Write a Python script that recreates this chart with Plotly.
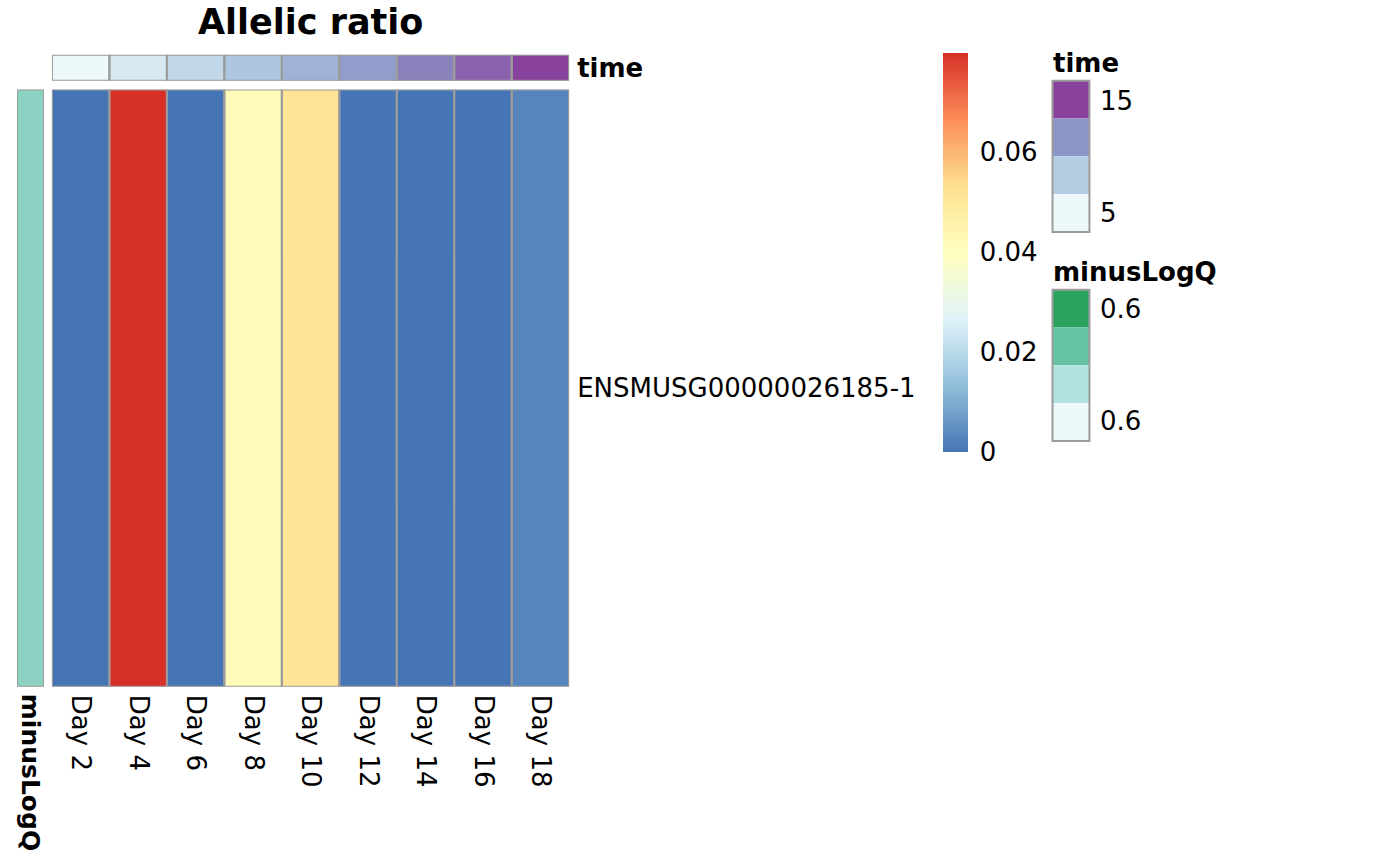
import plotly.graph_objects as go

# ---- data ----
days = ["Day 2", "Day 4", "Day 6", "Day 8", "Day 10", "Day 12", "Day 14", "Day 16", "Day 18"]
time_values = [2, 4, 6, 8, 10, 12, 14, 16, 18]
allelic_ratio = [0.0, 0.0798, 0.0, 0.0415, 0.0515, 0.0, 0.0, 0.0, 0.0028]
gene = "ENSMUSG00000026185-1"
minus_log_q = [0.6]
cbar_ticks = [0, 0.02, 0.04, 0.06]
cbar_ticktext = ["0", "0.02", "0.04", "0.06"]
time_legend_labels = ["15", "5"]
mlq_legend_labels = ["0.6", "0.6"]

# ---- styles ----
W, H = 1400, 865
def X(p): return p / W
def Y(p): return 1 - p / H

heat_colors = ["#4575B4", "#91BFDB", "#E0F3F8", "#FFFFBF", "#FEE090", "#FC8D59", "#D73027"]
heat_scale = [[i / (len(heat_colors) - 1), c] for i, c in enumerate(heat_colors)]
time_colors = ["#EDF8FB", "#B3CDE3", "#8C96C6", "#88419D"]
time_scale = [[i / 3, c] for i, c in enumerate(time_colors)]
mlq_colors = ["#EDF8FB", "#B2E2E2", "#66C2A4", "#2CA25F"]
mlq_scale = [[i / 3, c] for i, c in enumerate(mlq_colors)]
border = "#9C9C9C"
FONT = "DejaVu Sans"
FS = 26

fig = go.Figure()

# main heatmap
fig.add_trace(go.Heatmap(
    z=[allelic_ratio], x=list(range(len(days))), y=[0],
    colorscale=heat_scale, zmin=min(allelic_ratio), zmax=max(allelic_ratio),
    xaxis="x", yaxis="y", hoverinfo="skip",
    colorbar=dict(
        x=X(943), xanchor="left", xpad=0, thickness=25,
        len=399, lenmode="pixels", y=Y(51), yanchor="top", ypad=0,
        outlinewidth=0, tickvals=cbar_ticks, ticktext=cbar_ticktext,
        ticks="outside", ticklen=7, tickcolor="rgba(0,0,0,0)",
        tickfont=dict(family=FONT, size=FS, color="black"),
    ),
))

# time annotation
fig.add_trace(go.Heatmap(
    z=[time_values], x=list(range(len(days))), y=[0],
    colorscale=time_scale, zmin=min(time_values), zmax=max(time_values),
    showscale=False, xaxis="x2", yaxis="y2", hoverinfo="skip",
))

# minusLogQ annotation
fig.add_trace(go.Heatmap(
    z=[minus_log_q], x=[0], y=[0],
    colorscale=mlq_scale, zmin=minus_log_q[0] - 0.01, zmax=minus_log_q[0] + 0.01,
    showscale=False, xaxis="x3", yaxis="y3", hoverinfo="skip",
))

shapes = []
for i in range(len(days)):
    shapes.append(dict(type="rect", xref="x", yref="y", x0=i - 0.5, x1=i + 0.5, y0=-0.5, y1=0.5,
                       line=dict(color=border, width=2)))
    shapes.append(dict(type="rect", xref="x2", yref="y2", x0=i - 0.5, x1=i + 0.5, y0=-0.5, y1=0.5,
                       line=dict(color=border, width=2)))
shapes.append(dict(type="rect", xref="x3", yref="y3", x0=-0.5, x1=0.5, y0=-0.5, y1=0.5,
                   line=dict(color=border, width=2)))

# discrete legends (blocks)
def legend_blocks(colors, top, x0=1053, x1=1090, h=38):
    n = len(colors)
    for k, c in enumerate(reversed(colors)):
        y0 = top + k * h
        shapes.append(dict(type="rect", xref="paper", yref="paper", x0=X(x0), x1=X(x1),
                           y0=Y(y0 + h), y1=Y(y0), fillcolor=c, line=dict(width=0)))
    shapes.append(dict(type="rect", xref="paper", yref="paper", x0=X(x0), x1=X(x1),
                       y0=Y(top + n * h), y1=Y(top), line=dict(color=border, width=2)))

legend_blocks(time_colors, 79)
legend_blocks(mlq_colors, 289)

ann = []
ann.append(dict(text="<b>Allelic ratio</b>", x=X(310), y=Y(20), xref="paper", yref="paper",
                xanchor="center", yanchor="middle", showarrow=False,
                font=dict(family=FONT, size=35, color="black")))
ann.append(dict(text="<b>time</b>", x=X(1052), y=Y(61), xref="paper", yref="paper",
                xanchor="left", yanchor="middle", showarrow=False,
                font=dict(family=FONT, size=FS, color="black")))
ann.append(dict(text="<b>minusLogQ</b>", x=X(1052), y=Y(271), xref="paper", yref="paper",
                xanchor="left", yanchor="middle", showarrow=False,
                font=dict(family=FONT, size=FS, color="black")))
for lbl, yy in zip(time_legend_labels, [99, 212]):
    ann.append(dict(text=lbl, x=X(1099), y=Y(yy), xref="paper", yref="paper",
                    xanchor="left", yanchor="middle", showarrow=False,
                    font=dict(family=FONT, size=FS, color="black")))
for lbl, yy in zip(mlq_legend_labels, [308, 421]):
    ann.append(dict(text=lbl, x=X(1099), y=Y(yy), xref="paper", yref="paper",
                    xanchor="left", yanchor="middle", showarrow=False,
                    font=dict(family=FONT, size=FS, color="black")))

axis_common = dict(showgrid=False, zeroline=False, showline=False, ticks="")
tf = dict(family=FONT, size=FS, color="black")

fig.update_layout(
    width=W, height=H, margin=dict(l=0, r=0, t=0, b=0),
    paper_bgcolor="white", plot_bgcolor="white",
    font=dict(family=FONT, color="black"),
    xaxis=dict(domain=[X(51), X(569)], range=[-0.5, len(days) - 0.5], anchor="y",
               tickvals=list(range(len(days))), ticktext=days, tickangle=90,
               tickfont=tf, ticklabelstandoff=7, **axis_common),
    yaxis=dict(domain=[Y(688), Y(88)], range=[-0.5, 0.5], side="right", anchor="x",
               tickvals=[0], ticktext=[gene], tickfont=tf, ticklabelstandoff=7, **axis_common),
    xaxis2=dict(domain=[X(51), X(569)], range=[-0.5, len(days) - 0.5], anchor="y2",
                showticklabels=False, **axis_common),
    yaxis2=dict(domain=[Y(79), Y(53)], range=[-0.5, 0.5], side="right", anchor="x2",
                tickvals=[0], ticktext=["<b>time</b>"], tickfont=tf, ticklabelstandoff=7, **axis_common),
    xaxis3=dict(domain=[X(16), X(43)], range=[-0.5, 0.5], anchor="y3",
                tickvals=[0], ticktext=["<b>minusLogQ</b>"], tickangle=90,
                tickfont=dict(family=FONT, size=25, color="black"), ticklabelstandoff=6, **axis_common),
    yaxis3=dict(domain=[Y(688), Y(88)], range=[-0.5, 0.5], anchor="x3",
                showticklabels=False, **axis_common),
    shapes=shapes, annotations=ann,
)

fig.write_html("out.html")
